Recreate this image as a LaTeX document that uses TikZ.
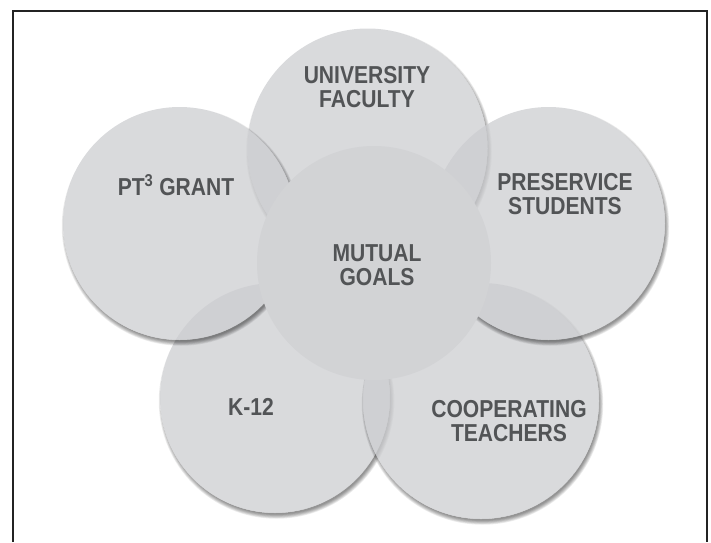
\documentclass[tikz,border=0pt]{standalone}
\usepackage{fontspec}
\newfontfamily\bubblefont{Liberation Sans}[FakeStretch=0.86]
\usetikzlibrary{positioning}
\definecolor{bubblegray}{RGB}{204,205,208}
\definecolor{hubgray}{RGB}{210,211,213}
\definecolor{labelgray}{RGB}{82,84,86}
\definecolor{framegray}{RGB}{35,35,35}

\begin{document}
\begin{tikzpicture}[x=1pt, y=-1pt]
    \tikzstyle{bubble} = [circle, fill=bubblegray, fill opacity=0.75, inner sep=0pt]
    \tikzstyle{hub} = [circle, fill=hubgray, minimum size=234pt, inner sep=0pt]
    \tikzstyle{caption} = [font=\bubblefont\bfseries\fontsize{24.5}{23.5}\selectfont, text=labelgray, align=center, inner sep=0pt]
    \useasboundingbox (0,0) rectangle (711,542);
    \draw[line width=2pt, framegray] (12.5,542) -- (12.5,10.5) -- (706.5,10.5) -- (706.5,542);
    % outer circles, each with its shadow
    \foreach \name/\cx/\cy/\r in {k12/275/398/115, teachers/481/401/118, faculty/367.5/148.5/120, grant/179.5/223.5/116.5, students/548.5/223.5/116.5} {
        \begin{scope}[even odd rule]
            \clip (0,0) rectangle (711,542) (\cx,\cy) circle (\r);
            \foreach \k in {0,...,6}
                \fill[black, opacity=0.075] (\cx+1.5,\cy+3) circle (\r-1.5+\k*0.7);
        \end{scope}
        \node[bubble, minimum size=2*\r pt] (\name) at (\cx,\cy) {};
    }
    \node[hub] (mutual) at (374,263) {};
    % labels
    \node[caption] (facultytext) at (367,87) {UNIVERSITY\\FACULTY};
    \node[caption] (granttext) at (176,185) {PT\textsuperscript{3} GRANT};
    \node[caption] (studentstext) at (565,194) {PRESERVICE\\STUDENTS};
    \node[caption] (mutualtext) at (377,265) {MUTUAL\\GOALS};
    \node[caption] (k12text) at (251,407) {K-12};
    \node[caption] (teacherstext) at (509,421) {COOPERATING\\TEACHERS};
\end{tikzpicture}
\end{document}
